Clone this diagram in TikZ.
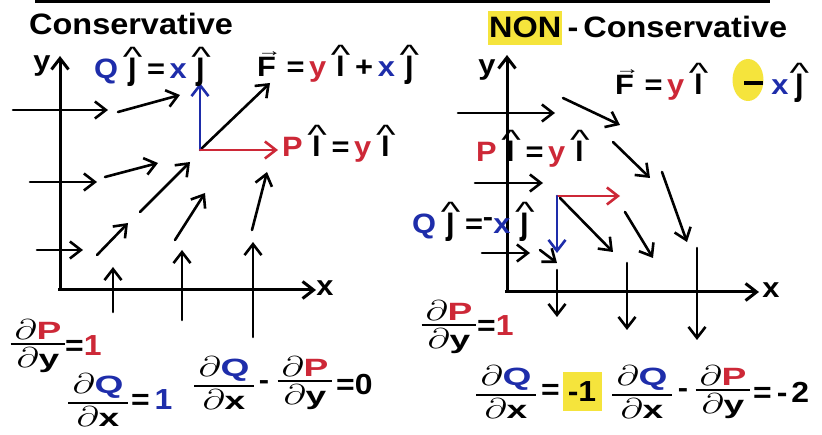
\documentclass[tikz,border=0pt]{standalone}
\usepackage{fontspec}
\setmainfont{Liberation Sans}[FakeStretch=1.1]
\usepackage{graphicx}
\usetikzlibrary{arrows.meta,shapes.geometric}
\definecolor{pred}{RGB}{205,40,55}
\definecolor{qblue}{RGB}{30,45,170}
\definecolor{hl}{RGB}{245,228,60}
\newcommand\hatg{\scalebox{1.35}[1]{\mdseries\textasciicircum}}
\newcommand\uv[1]{{\ooalign{\hfil#1\hfil\cr\hfil\raisebox{0.45em}{\hatg}\hfil\cr}}}
\newcommand\hi{\uv{\scalebox{1}[1.38]{\i}}}
\newcommand\hj{\uv{\scalebox{1}[1.38]{\j}}}
\newcommand\vecF{{\ooalign{F\cr\hfil\raisebox{0.74em}{\scalebox{0.8}[0.6]{→}}\hfil\cr}}}
\newcommand\pd{\scalebox{1.15}{$\partial$}}
\newcommand\bigminus{\raisebox{10pt}{\rule{19pt}{4pt}}}
\newcommand\frc[2]{\scalebox{1.35}[1]{$\vcenter{\offinterlineskip\halign{\hfil\kern3pt##\kern3pt\hfil\cr#1\cr\noalign{\kern3pt\hrule height 2.6pt\kern2pt}#2\cr}}$}}
\tikzset{
  every node/.style={inner sep=0pt, font=\bfseries\fontsize{28}{30}\selectfont},
  lbl/.style={anchor=base west},
  ttl/.style={anchor=base west, font=\bfseries\fontsize{29.5}{31}\selectfont},
  fr/.style={font=\bfseries\fontsize{25}{27}\selectfont},
  big/.style={anchor=west, font=\bfseries\fontsize{29}{31}\selectfont},
  vec/.style={line width=2.6pt, line cap=round, -{Straight Barb[length=11pt,width=17pt]}},
  axis/.style={line width=3pt, -{Straight Barb[length=11pt,width=17pt]}}
}
\begin{document}
\begin{tikzpicture}[x=1pt,y=-1pt]
\fill[white] (0,0) rectangle (822,435);
\useasboundingbox (0,0) rectangle (822,435);
\draw[line width=3pt] (35,1.5) -- (770,1.5);
% ---------- left: conservative ----------
\node[ttl] (tc) at (29,35) {Conservative};
\draw[axis] (60,291) -- (60,56);
\draw[axis] (58,290) -- (316,290);
\node (yl) at (42,66) {y};
\node (xl) at (325,288) {x};
\draw[vec] (13,110) -- (108,110);
\draw[vec] (118,112) -- (180,95);
\draw[vec] (30,182) -- (97,182);
\draw[vec] (105,177) -- (158,163);
\draw[vec] (140,212) -- (190,162);
\draw[vec] (37,250) -- (83,250);
\draw[vec] (97,255) -- (128,223);
\draw[vec] (175,240) -- (205,193);
\draw[vec] (252,230) -- (267,172);
\draw[vec] (113,312) -- (113,267);
\draw[vec] (182,320) -- (182,250);
\draw[vec] (253,337) -- (253,242);
\coordinate (o1) at (200,150);
\draw[vec] (o1) -- (270,83);
\draw[vec,qblue] (o1) -- (200,83);
\draw[vec,pred] (o1) -- (278,150);
\node[lbl] (ql) at (94,79) {{\color{qblue}Q}\,\hj\,=\,{\color{qblue}x}\,\hj};
\node[lbl] (fl) at (257,77) {\vecF\,=\,{\color{pred}y}\,\hi\,+\,{\color{qblue}x}\,\hj};
\node[lbl] (pl) at (282,157) {{\color{pred}P}\,\hi\,=\,{\color{pred}y}\,\hi};
\node[fr] (f1) at (38,346) {\frc{\pd{\color{pred}P}}{\pd y}};
\node[big] (e1) at (65,346) {=\color{pred}1};
\node[fr] (f2) at (98,400) {\frc{\pd{\color{qblue}Q}}{\pd x}};
\node[big] (e2) at (131,400) {=\,\color{qblue}1};
\node[fr] (f3) at (224,383) {\frc{\pd{\color{qblue}Q}}{\pd x}};
\node (m1) at (264,385) {-};
\node[fr] (f4) at (305,383) {\frc{\pd{\color{pred}P}}{\pd y}};
\node[big] (e3) at (336,385) {=0};
% ---------- right: non-conservative ----------
\node[ttl, fill=hl, text height=27pt, text depth=7pt, inner xsep=1pt] (non) at (488,38) {NON};
\node[ttl] (nc) at (non.base east) {\,-\,Conservative};
\draw[axis] (507,293) -- (507,55);
\draw[axis] (505,292) -- (759,292);
\node (yr) at (487,70) {y};
\node (xr) at (771,290) {x};
\draw[vec] (458,113) -- (555,113);
\draw[vec] (563,98) -- (620,125);
\draw[vec] (613,142) -- (650,178);
\draw[vec] (662,172) -- (687,242);
\draw[vec] (475,183) -- (543,183);
\draw[vec] (560,198) -- (613,252);
\draw[vec] (625,212) -- (653,258);
\draw[vec] (482,253) -- (530,253);
\draw[vec] (540,250) -- (557,263);
\draw[vec] (557,270) -- (557,317);
\draw[vec] (627,263) -- (627,330);
\draw[vec] (697,248) -- (697,340);
\coordinate (o2) at (557,196);
\draw[vec,pred] (o2) -- (620,196);
\draw[vec,qblue] (o2) -- (557,253);
\node[ellipse, fill=hl, minimum width=31pt, minimum height=42pt] (hm) at (748,80) {};
\node[lbl] (fr) at (615,95) {\vecF\,=\,{\color{pred}y}\,\hi\hspace{36pt}\bigminus\hspace{8pt}{\color{qblue}x}\hspace{1pt}\hj};
\node[lbl] (pr) at (476,162) {{\color{pred}P}\,\hi\,=\,{\color{pred}y}\,\hi};
\node[lbl] (qr) at (412,234) {{\color{qblue}Q}\,\hj\,=\raisebox{0.25em}{-}{\color{qblue}x}\,\hj};
\node[fr] (f5) at (449,327) {\frc{\pd{\color{pred}P}}{\pd y}};
\node[big] (e5) at (477,326) {=\color{pred}1};
\node[fr] (f6) at (506,392) {\frc{\pd{\color{qblue}Q}}{\pd x}};
\node[big] (e6) at (541,392) {=};
\node[fill=hl, minimum width=39pt, minimum height=39pt, font=\bfseries\fontsize{29}{31}\selectfont] (m6) at (582,392) {-1};
\node[fr] (f7) at (642,392) {\frc{\pd{\color{qblue}Q}}{\pd x}};
\node (m7) at (683,393) {-};
\node[fr] (f8) at (723,392) {\frc{\pd{\color{pred}P}}{\pd y}};
\node[big] (e8) at (753,392) {=\hspace{5pt}-\hspace{4pt}2};
\end{tikzpicture}
\end{document}
